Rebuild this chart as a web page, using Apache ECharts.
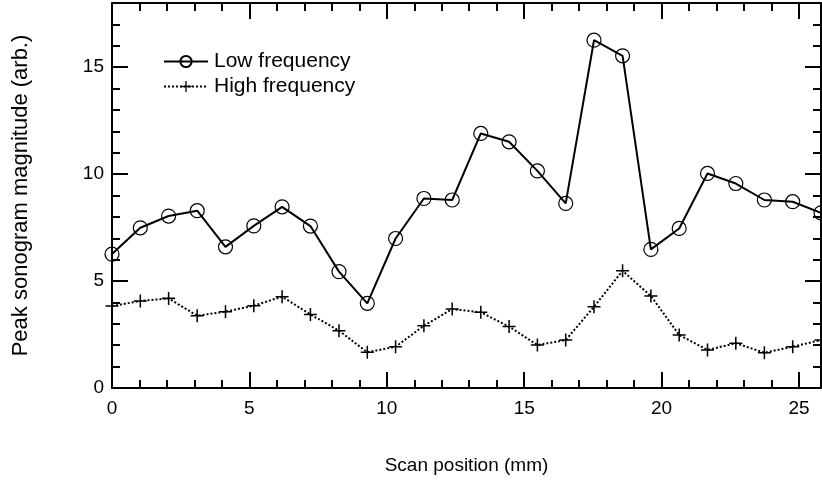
<!DOCTYPE html>
<html>
<head>
<meta charset="utf-8">
<script src="https://cdn.jsdelivr.net/npm/echarts@6/dist/echarts.min.js"></script>
<style>html,body{margin:0;padding:0;background:#fff}#c{width:822px;height:484px}</style>
</head>
<body>
<div id="c"></div>
<script>
const positions = [0, 1.03, 2.06, 3.1, 4.13, 5.16, 6.19, 7.22, 8.26, 9.29, 10.32, 11.35, 12.38, 13.42, 14.45, 15.48, 16.51, 17.54, 18.58, 19.61, 20.64, 21.67, 22.7, 23.74, 24.77, 25.8];
const lowFreq = [6.26, 7.49, 8.04, 8.29, 6.6, 7.58, 8.47, 7.57, 5.44, 3.96, 6.99, 8.86, 8.79, 11.9, 11.51, 10.15, 8.63, 16.26, 15.53, 6.48, 7.46, 10.03, 9.56, 8.79, 8.71, 8.19];
const highFreq = [3.83, 4.07, 4.19, 3.38, 3.57, 3.85, 4.27, 3.44, 2.68, 1.67, 1.93, 2.91, 3.69, 3.54, 2.87, 2.01, 2.24, 3.8, 5.48, 4.3, 2.48, 1.78, 2.09, 1.65, 1.93, 2.24];
const seriesNames = ['Low frequency', 'High frequency'];
const xTitle = 'Scan position (mm)';
const yTitle = 'Peak sonogram magnitude (arb.)';

const FONT = 'Liberation Sans, Arial, sans-serif';
const FS = 19;
const plusPath = 'path://M5.3,0 h1.4 v12 h-1.4 z M0,5.3 h12 v1.4 h-12 z';

function axisCommon(showLabel, margin) {
  return {
    axisLine: { show: true, onZero: false, lineStyle: { color: '#000', width: 2 } },
    axisTick: { show: true, inside: true, length: 16, lineStyle: { color: '#000', width: 2 } },
    minorTick: { show: true, splitNumber: 5, length: 8, lineStyle: { color: '#000', width: 2 } },
    splitLine: { show: false },
    minorSplitLine: { show: false },
    axisLabel: { show: showLabel, color: '#000', fontSize: FS, fontFamily: FONT, showMaxLabel: false,
      margin: margin || 8,
      formatter: v => (Math.abs(v % 5) < 1e-9 ? String(v) : '') }
  };
}

const chart = echarts.init(document.getElementById('c'), null, { renderer: 'canvas' });
chart.setOption({
  animation: false,
  backgroundColor: '#fff',
  grid: { left: 112, right: 1, top: 3, bottom: 96, containLabel: false },
  legend: {
    orient: 'vertical', left: 158, top: 46, itemGap: 4, itemWidth: 44, itemHeight: 14,
    textStyle: { color: '#000', fontSize: 21, fontFamily: FONT, padding: [0, 0, 0, 1] },
    data: seriesNames
  },
  xAxis: [
    Object.assign({ type: 'value', min: 0, max: 25.8, interval: 5, position: 'bottom',
      name: xTitle, nameLocation: 'middle', nameGap: 68,
      nameTextStyle: { color: '#000', fontSize: FS, fontFamily: FONT } }, axisCommon(true, 11)),
    Object.assign({ type: 'value', min: 0, max: 25.8, interval: 5, position: 'top' }, axisCommon(false))
  ],
  yAxis: [
    Object.assign({ type: 'value', min: 0, max: 18, interval: 5, position: 'left',
      name: yTitle, nameLocation: 'middle', nameGap: 80,
      nameTextStyle: { color: '#000', fontSize: 22, fontFamily: FONT } }, axisCommon(true, 8)),
    Object.assign({ type: 'value', min: 0, max: 18, interval: 5, position: 'right' }, axisCommon(false))
  ],
  series: [
    {
      name: seriesNames[0], type: 'line', xAxisIndex: 0, yAxisIndex: 0,
      data: positions.map((x, i) => [x, lowFreq[i]]),
      symbol: 'circle', symbolSize: 14, showAllSymbol: true, clip: false,
      lineStyle: { color: '#000', width: 2, type: 'solid' },
      itemStyle: { color: 'rgba(0,0,0,0)', borderColor: '#000', borderWidth: 1.2 },
      emphasis: { disabled: true }
    },
    {
      name: seriesNames[1], type: 'line', xAxisIndex: 0, yAxisIndex: 0,
      data: positions.map((x, i) => [x, highFreq[i]]),
      symbol: plusPath, symbolSize: 13, showAllSymbol: true, clip: false,
      lineStyle: { color: '#000', width: 2, type: [2, 2] },
      itemStyle: { color: '#000', borderWidth: 0 },
      emphasis: { disabled: true }
    }
  ]
});
</script>
</body>
</html>
